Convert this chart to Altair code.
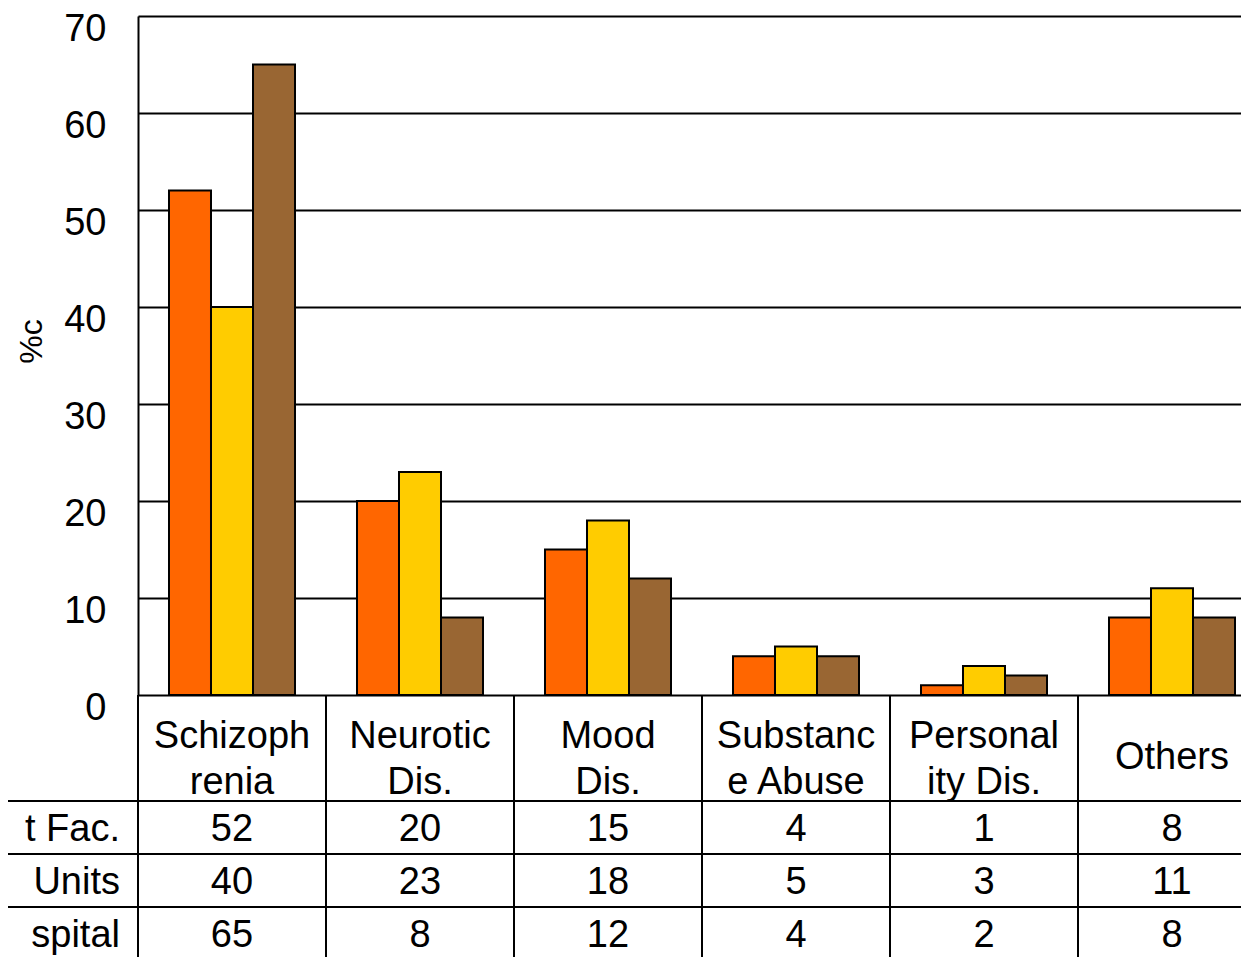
import altair as alt
import pandas as pd

# ---- data ----
categories = ["Schizophrenia", "Neurotic Dis.", "Mood Dis.", "Substance Abuse", "Personality Dis.", "Others"]
header_labels = ["Schizoph\nrenia", "Neurotic\nDis.", "Mood\nDis.", "Substanc\ne  Abuse", "Personal\nity  Dis.", "Others"]
series = ["t  Fac.", "Units", "spital"]
fac_values = [52, 20, 15, 4, 1, 8]
units_values = [40, 23, 18, 5, 3, 11]
hospital_values = [65, 8, 12, 4, 2, 8]
colors = ["#FF6600", "#FFCC00", "#996633"]
y_ticks = [0, 10, 20, 30, 40, 50, 60, 70]

FONT = "Liberation Sans"

# ---- tables built from the arrays ----
rows = []
for i, (s, vals) in enumerate(zip(series, [fac_values, units_values, hospital_values])):
    for c, v in zip(categories, vals):
        rows.append({"cat": c, "series": s, "value": v, "row": 2 + i + 0.5})
df = pd.DataFrame(rows)

header_df = pd.DataFrame({
    "cat": categories,
    "label": header_labels,
    "nlines": [len(h.split("\n")) for h in header_labels],
    "row": [1] * len(categories),
})
label_df = pd.DataFrame({"series": series, "row": [2 + i + 0.5 for i in range(len(series))]})
hline_df = pd.DataFrame({"row": [2 + i for i in range(len(series) + 1)]})
vline_df = pd.DataFrame({"cat": categories, "r0": [0] * len(categories), "r1": [2 + len(series)] * len(categories)})

W = 1103
H = 679
xscale = alt.Scale(type="band", domain=categories, range=[0, 1128], paddingInner=0, paddingOuter=0)
# table rows: header block (two text lines) then one band per series
tscale = alt.Scale(domain=[0, 2, 5], range=[H, H + 106, H + 106 + 3 * 53], nice=False, zero=False)

bars = alt.Chart(df).mark_bar(stroke="black", strokeWidth=2).encode(
    x=alt.X("cat:N", scale=xscale, axis=None, sort=categories),
    xOffset=alt.XOffset("series:N", sort=series,
                        scale=alt.Scale(domain=series, paddingInner=0, paddingOuter=0.738)),
    y=alt.Y("value:Q", scale=alt.Scale(domain=[0, 70], nice=False),
            axis=alt.Axis(values=y_ticks, grid=True, gridColor="black", gridWidth=2, gridOpacity=1,
                          domain=True, domainColor="black", domainWidth=2, ticks=False,
                          labelPadding=32, labelFontSize=38, labelFont=FONT, labelColor="black",
                          labelOffset=13,
                          title="%c", titleFont=FONT, titleFontSize=32, titleFontWeight="normal",
                          titleColor="black", titleX=-107, titleY=325, titleAngle=270,
                          titleAlign="center", titleBaseline="middle")),
    color=alt.Color("series:N", scale=alt.Scale(domain=series, range=colors), legend=None),
)

cells = alt.Chart(df).mark_text(font=FONT, fontSize=38, color="black", dy=2, baseline="middle").encode(
    x=alt.X("cat:N", scale=xscale, axis=None, bandPosition=0.5),
    y=alt.Y("row:Q", scale=tscale, axis=None),
    text="value:Q",
)

header2 = alt.Chart(header_df).transform_filter("datum.nlines > 1").mark_text(
    font=FONT, fontSize=38, color="black", dy=-11, baseline="middle", lineBreak="\n", lineHeight=46
).encode(
    x=alt.X("cat:N", scale=xscale, axis=None, bandPosition=0.5),
    y=alt.Y("row:Q", scale=tscale, axis=None),
    text="label:N",
)

header1 = alt.Chart(header_df).transform_filter("datum.nlines == 1").mark_text(
    font=FONT, fontSize=38, color="black", dy=10, baseline="middle"
).encode(
    x=alt.X("cat:N", scale=xscale, axis=None, bandPosition=0.5),
    y=alt.Y("row:Q", scale=tscale, axis=None),
    text="label:N",
)

row_labels = alt.Chart(label_df).mark_text(font=FONT, fontSize=38, color="black", dy=2,
                                            align="right", baseline="middle").encode(
    x=alt.value(-18),
    y=alt.Y("row:Q", scale=tscale, axis=None),
    text="series:N",
)

hlines = alt.Chart(hline_df).mark_rule(color="black", strokeWidth=2).encode(
    x=alt.value(-130), x2=alt.value(W),
    y=alt.Y("row:Q", scale=tscale, axis=None),
)

vlines = alt.Chart(vline_df).mark_rule(color="black", strokeWidth=2).encode(
    x=alt.X("cat:N", scale=xscale, axis=None, bandPosition=0),
    y=alt.Y("r0:Q", scale=tscale, axis=None),
    y2="r1:Q",
)

table = alt.layer(hlines, vlines, cells, header2, header1, row_labels)

chart = alt.layer(bars, table).resolve_scale(y="independent").properties(
    width=W, height=H,
    autosize=alt.AutoSizeParams(type="none"),
    padding={"left": 130, "top": 8, "right": 0, "bottom": 262},
).configure_view(stroke=None).configure(background="white")

chart.save("out.html", embed_options={"renderer": "svg", "actions": False})
